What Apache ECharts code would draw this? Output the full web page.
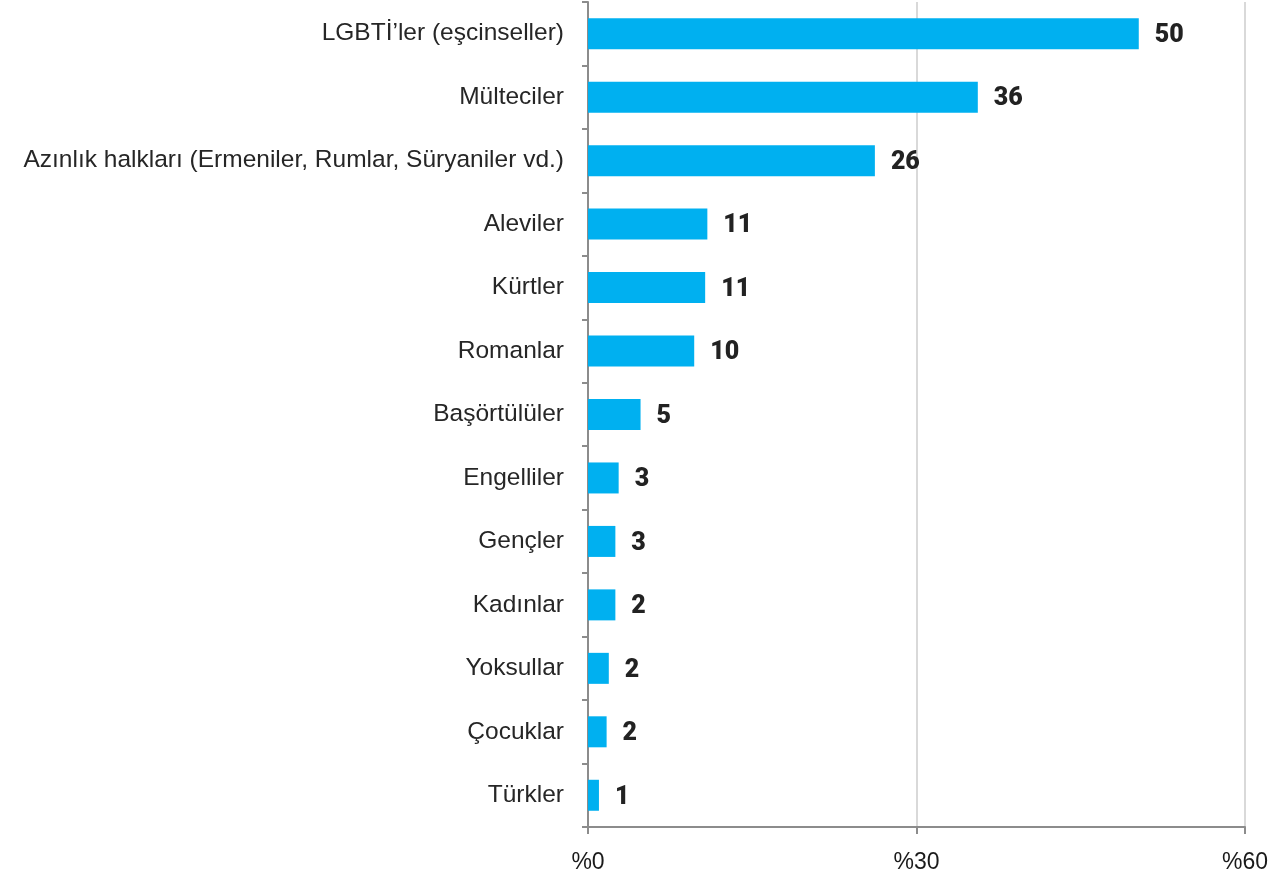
<!DOCTYPE html>
<html>
<head>
<meta charset="utf-8">
<script src="https://cdn.jsdelivr.net/npm/echarts@6/dist/echarts.min.js"></script>
<style>
  html, body { margin: 0; padding: 0; background: #fff; }
  #chart { width: 1271px; height: 880px; }
</style>
</head>
<body>
<div id="chart"></div>
<script>
const categories = [
  "LGBTİ’ler (eşcinseller)",
  "Mülteciler",
  "Azınlık halkları (Ermeniler, Rumlar, Süryaniler vd.)",
  "Aleviler",
  "Kürtler",
  "Romanlar",
  "Başörtülüler",
  "Engelliler",
  "Gençler",
  "Kadınlar",
  "Yoksullar",
  "Çocuklar",
  "Türkler"
];
// bar lengths (percent)
const values = [50.3, 35.6, 26.2, 10.9, 10.7, 9.7, 4.8, 2.8, 2.5, 2.5, 1.9, 1.7, 1.0];
// printed labels
const valueLabels = ["50", "36", "26", "11", "11", "10", "5", "3", "3", "2", "2", "2", "1"];
const xTicks = [0, 30, 60];

const myChart = echarts.init(document.getElementById("chart"));

const option = {
  animation: false,
  grid: { left: 588, right: 24, top: 2, bottom: 53, containLabel: false },
  xAxis: {
    type: "value",
    min: 0,
    max: 60,
    interval: 30,
    axisLine: { show: true, lineStyle: { color: "#8c8c8c", width: 2 } },
    axisTick: { show: true, length: 7, lineStyle: { color: "#8c8c8c", width: 2 } },
    axisLabel: {
      formatter: (v) => (xTicks.includes(v) ? "%" + v : ""),
      color: "#1a1a1a",
      fontFamily: "Liberation Sans",
      fontSize: 23,
      margin: 24
    },
    splitLine: { show: true, lineStyle: { color: "#d9d9d9", width: 2 } }
  },
  yAxis: {
    type: "category",
    inverse: true,
    data: categories,
    axisLine: { show: true, lineStyle: { color: "#8c8c8c", width: 2 } },
    axisTick: { show: true, length: 6, inside: false, lineStyle: { color: "#8c8c8c", width: 2 } },
    axisLabel: {
      color: "#262626",
      fontFamily: "Liberation Sans",
      fontSize: 24.5,
      margin: 24
    }
  },
  series: [{
    type: "bar",
    data: values,
    barWidth: 31,
    itemStyle: { color: "#00b0f0" },
    label: {
      show: true,
      position: "right",
      distance: 16,
      offset: [0, 2],
      formatter: (p) => valueLabels[p.dataIndex],
      color: "#222222",
      fontFamily: "Roboto",
      fontWeight: 900,
      fontSize: 25
    }
  }]
};

myChart.setOption(option);
</script>
</body>
</html>
